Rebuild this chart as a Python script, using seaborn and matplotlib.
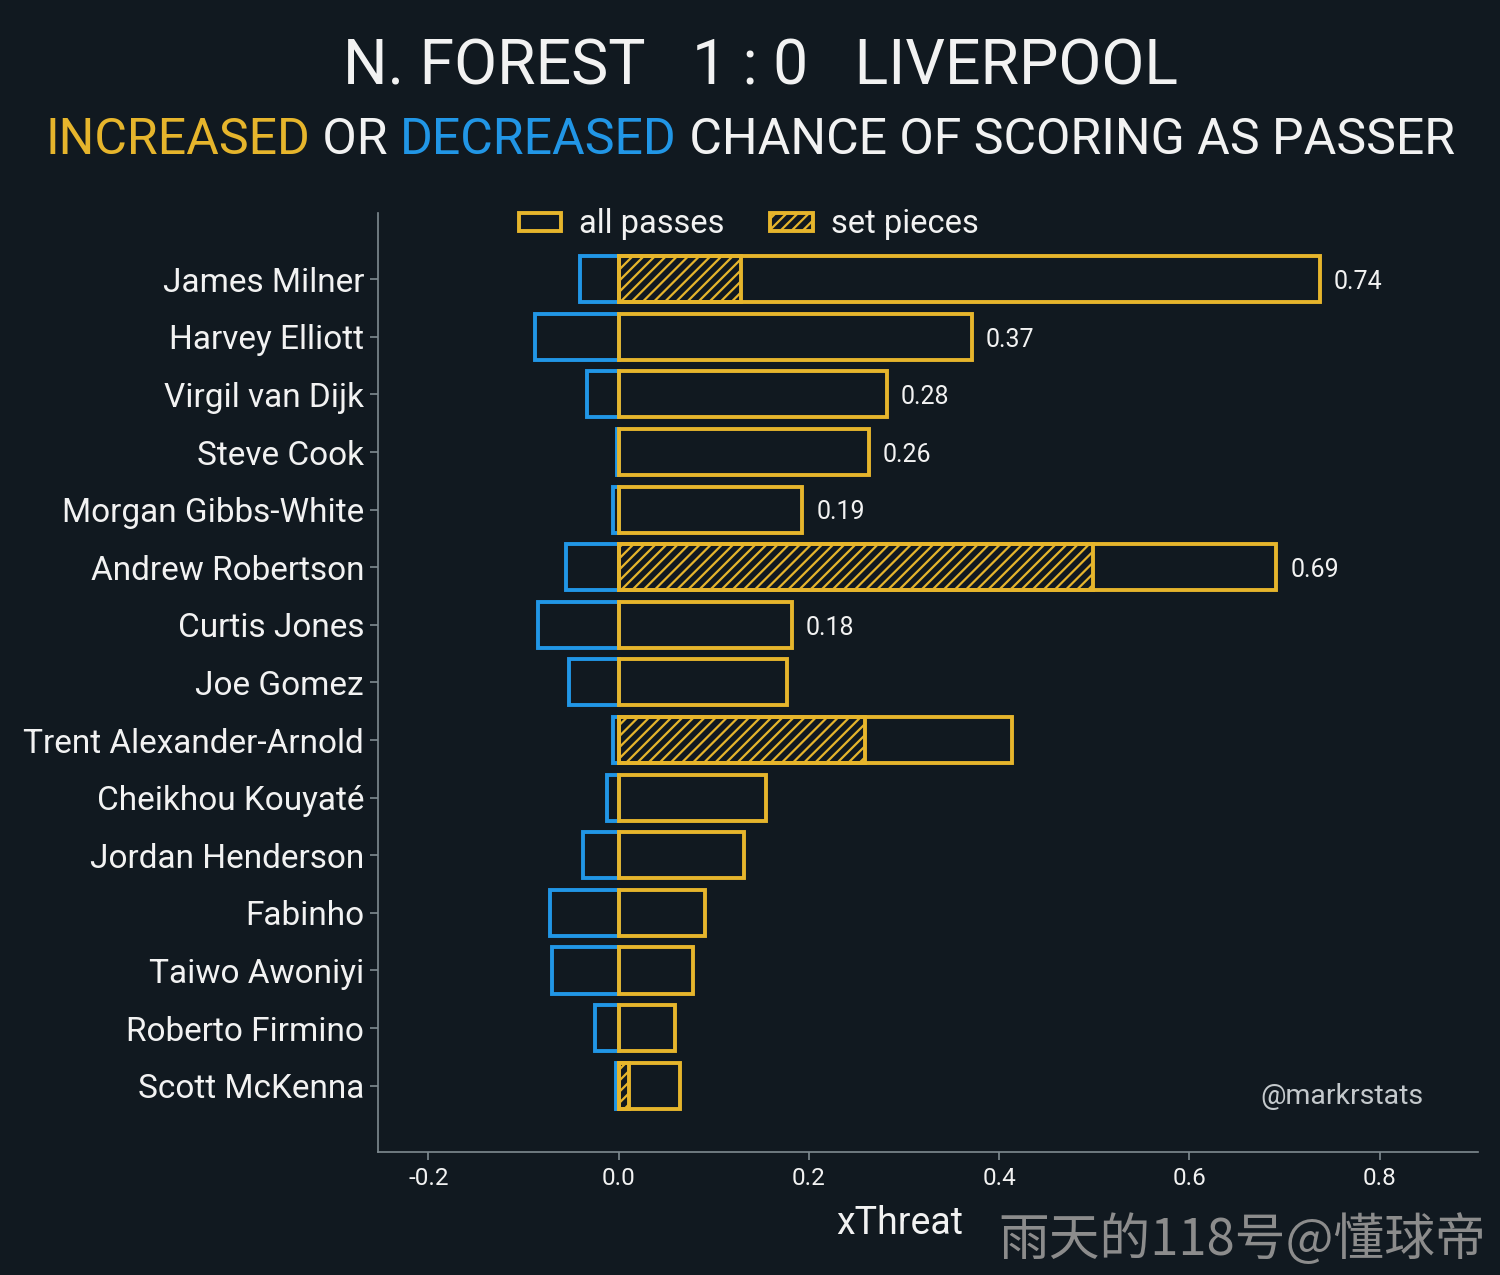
import seaborn as sns
import pandas as pd
import matplotlib
matplotlib.use("Agg")
from matplotlib import pyplot as plt
from matplotlib.patches import Patch

# dados
players = ['James Milner', 'Harvey Elliott', 'Virgil van Dijk', 'Steve Cook',
           'Morgan Gibbs-White', 'Andrew Robertson', 'Curtis Jones', 'Joe Gomez',
           'Trent Alexander-Arnold', 'Cheikhou Kouyaté', 'Jordan Henderson',
           'Fabinho', 'Taiwo Awoniyi', 'Roberto Firmino', 'Scott McKenna']
positive = [0.737, 0.371, 0.282, 0.263, 0.193, 0.691, 0.182, 0.177,
            0.414, 0.155, 0.132, 0.091, 0.078, 0.059, 0.065]
negative = [-0.041, -0.088, -0.033, -0.002, -0.006, -0.055, -0.085, -0.052,
            -0.006, -0.012, -0.037, -0.072, -0.070, -0.025, -0.003]
sp_players = ['James Milner', 'Andrew Robertson', 'Trent Alexander-Arnold', 'Scott McKenna']
sp_values = [0.129, 0.499, 0.259, 0.011]
labelled = players[:7]  # só os primeiros têm rótulo no original
x_ticks = [-0.2, 0.0, 0.2, 0.4, 0.6, 0.8]

BG = '#111920'
YELLOW = '#e6b52c'
BLUE = '#2196e6'
GREY = '#7f8a90'
WHITE = '#f2f2f2'

df = pd.DataFrame({'player': players, 'pos': positive, 'neg': negative})
df_sp = pd.DataFrame({'player': sp_players, 'sp': sp_values})

sns.set_theme(style="white")
plt.rcParams['font.family'] = ['Roboto', 'DejaVu Sans']
plt.rcParams['hatch.linewidth'] = 1.6

fig = plt.figure(figsize=(15, 12.75), dpi=100, facecolor=BG)
ax = fig.add_axes([0.252, 0.0965, 0.733, 0.7365])
ax.set_facecolor(BG)

sns.barplot(data=df, x='neg', y='player', order=players, orient='h', fill=False,
            color=BLUE, linewidth=2.8, width=0.8, errorbar=None, ax=ax)
sns.barplot(data=df, x='pos', y='player', order=players, orient='h', fill=False,
            color=YELLOW, linewidth=2.8, width=0.8, errorbar=None, ax=ax)
n_before = len(ax.patches)
sns.barplot(data=df_sp, x='sp', y='player', order=players, orient='h', fill=False,
            color=YELLOW, linewidth=2.8, width=0.8, errorbar=None, ax=ax)
for p in ax.patches[n_before:]:
    p.set_hatch('///')

# rótulos de valor
for i, (name, v) in enumerate(zip(players, positive)):
    if name in labelled:
        ax.text(v + 0.015, i + 0.05, f'{v:.2f}', color=WHITE, fontsize=18, va='center', ha='left')

ax.set_xlim(-0.253, 0.903)
ax.set_ylim(len(players) - 1 + 1.15, -1.15)
ax.set_xticks(x_ticks)
ax.set_xticklabels([f'{t:.1f}' for t in x_ticks])
ax.set_ylabel('')
ax.set_xlabel('xThreat', color=WHITE, fontsize=27)
ax.xaxis.label.set_va('center')
ax.xaxis.set_label_coords(0.4745, -0.0767)
ax.tick_params(axis='x', colors=GREY, labelcolor=WHITE, labelsize=17.5, length=6, width=1.2, pad=5)
ax.tick_params(axis='y', colors=GREY, labelcolor=WHITE, labelsize=24, length=6, width=1.2, pad=4)
ax.tick_params(left=True, bottom=True)
for s in ['top', 'right']:
    ax.spines[s].set_visible(False)
for s in ['left', 'bottom']:
    ax.spines[s].set_color(GREY)
    ax.spines[s].set_linewidth(1.2)

handles = [Patch(facecolor='none', edgecolor=YELLOW, linewidth=2.8, label='all passes'),
           Patch(facecolor='none', edgecolor=YELLOW, linewidth=2.8, hatch='///', label='set pieces')]
leg = fig.legend(handles=handles, loc='center', bbox_to_anchor=(0.499, 0.824), ncol=2,
                 frameon=False, fontsize=23.5, handlelength=1.3, handleheight=0.5,
                 columnspacing=1.4, handletextpad=0.55)
for t in leg.get_texts():
    t.set_color(WHITE)

# títulos
fig.text(0.507, 0.947, 'N. FOREST   1 : 0   LIVERPOOL', color=WHITE, fontsize=45,
         ha='center', va='center')

parts = [('INCREASED', YELLOW), (' OR ', WHITE), ('DECREASED', BLUE),
         (' CHANCE OF SCORING AS PASSER', WHITE)]
renderer = fig.canvas.get_renderer()
texts = [fig.text(0, 0.8905, s, color=c, fontsize=36, va='center', ha='left') for s, c in parts]
widths = [t.get_window_extent(renderer).width for t in texts]
x = 750 - sum(widths) / 2
for t, w in zip(texts, widths):
    t.set_x(x / 1500)
    x += w

fig.text(0.949, 0.14, '@markrstats', color='#c4c9cc', fontsize=20.5, ha='right', va='center')
fig.text(0.991, 0.027, '雨天的118号@懂球帝', color='#8c8c8c', fontsize=36.5, ha='right',
         va='center', family=['Noto Sans CJK SC', 'DejaVu Sans'])

fig.savefig('out.png', dpi=100, facecolor=BG)
